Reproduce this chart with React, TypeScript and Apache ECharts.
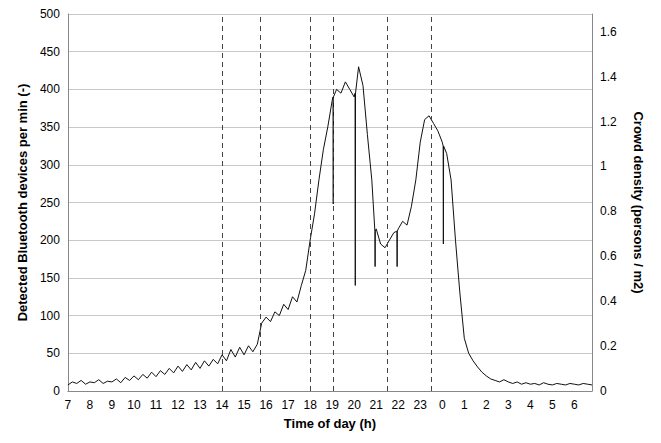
import React, { useEffect, useRef } from "react";
import * as echarts from "echarts";

const hours: number[] = [];
for (let i = 0; i <= 119; i++) hours.push(+(7 + i * 0.2).toFixed(1));

const devices = [
  8, 12, 10, 14, 9, 12, 11, 15, 10, 13,
  12, 16, 11, 18, 14, 20, 15, 22, 17, 25,
  19, 27, 22, 30, 24, 33, 26, 35, 28, 38,
  30, 40, 33, 42, 36, 48, 40, 55, 45, 58,
  48, 60, 52, 62, 90, 98, 92, 105, 100, 115,
  108, 125, 118, 140, 160, 200, 235, 280, 320, 350,
  385, 400, 395, 410, 400, 390, 430, 405, 340, 280,
  215, 195, 190, 200, 210, 215, 225, 220, 245, 280,
  330, 360, 365, 355, 345, 330, 315, 280, 200, 130,
  70, 50, 40, 32, 25, 20, 16, 14, 12, 15,
  12, 10, 12, 9, 11, 9, 10, 8, 11, 9,
  8, 10, 9, 8, 10, 9, 8, 10, 9, 8,
];

// single-minute drop-outs and the level around them
const spikeHours = [19.05, 20.05, 20.95, 21.95, 24.05];
const spikeValues = [248, 140, 165, 165, 195];
const spikeBase = [390, 395, 212, 212, 325];

const phaseLines = [14, 15.75, 18, 19.03, 21.5, 23.5];

const labelFont = { fontFamily: "Liberation Sans", fontSize: 12, color: "#000" };
const nameFont = { fontFamily: "Liberation Sans", fontSize: 13, fontWeight: "bold" as const, color: "#000" };

const App: React.FC = () => {
  const ref = useRef<HTMLDivElement>(null);

  useEffect(() => {
    if (!ref.current) return;
    const chart = echarts.init(ref.current, null, { renderer: "svg" });

    const points: number[][] = hours.map((h, i) => [h, devices[i]]);
    spikeHours.forEach((h, i) => {
      points.push([h - 0.01, spikeBase[i]], [h, spikeValues[i]], [h + 0.01, spikeBase[i]]);
    });
    points.sort((a, b) => a[0] - b[0]);

    chart.setOption({
      animation: false,
      grid: { left: 52, right: 42, top: 4, bottom: 40 },
      xAxis: {
        type: "value",
        min: 7,
        max: 30.8,
        interval: 1,
        name: "Time of day (h)",
        nameLocation: "middle",
        nameGap: 26,
        nameTextStyle: nameFont,
        axisLine: { lineStyle: { color: "#888" } },
        axisTick: { show: false },
        splitLine: { show: false },
        axisLabel: {
          ...labelFont,
          formatter: (v: number) => (Number.isInteger(v) ? String(v % 24) : ""),
        },
      },
      yAxis: [
        {
          type: "value",
          min: 0,
          max: 500,
          interval: 50,
          name: "Detected Bluetooth devices per min (-)",
          nameLocation: "middle",
          nameGap: 38,
          nameTextStyle: nameFont,
          axisLine: { show: true, lineStyle: { color: "#888" } },
          axisTick: { show: false },
          axisLabel: labelFont,
          splitLine: { lineStyle: { color: "#c8c8c8", width: 1 } },
        },
        {
          type: "value",
          min: 0,
          max: 1.679,
          interval: 0.2,
          name: "Crowd density (persons / m2)",
          nameLocation: "middle",
          nameGap: 40,
          nameRotate: -90,
          nameTextStyle: nameFont,
          axisLine: { show: true, lineStyle: { color: "#888" } },
          axisTick: { show: false },
          splitLine: { show: false },
          axisLabel: {
            ...labelFont,
            formatter: (v: number) =>
              Math.abs(v * 5 - Math.round(v * 5)) < 1e-6 ? String(+v.toFixed(1)) : "",
          },
        },
      ],
      series: [
        {
          type: "line",
          data: points,
          symbol: "none",
          lineStyle: { color: "#111", width: 1 },
          markLine: {
            silent: true,
            symbol: "none",
            label: { show: false },
            lineStyle: { color: "#444", type: [5, 4], width: 1 },
            data: phaseLines.map((x) => ({ xAxis: x })),
          },
        },
      ],
    });

    return () => chart.dispose();
  }, []);

  return <div ref={ref} style={{ width: 645, height: 427 }} />;
};

export default App;
